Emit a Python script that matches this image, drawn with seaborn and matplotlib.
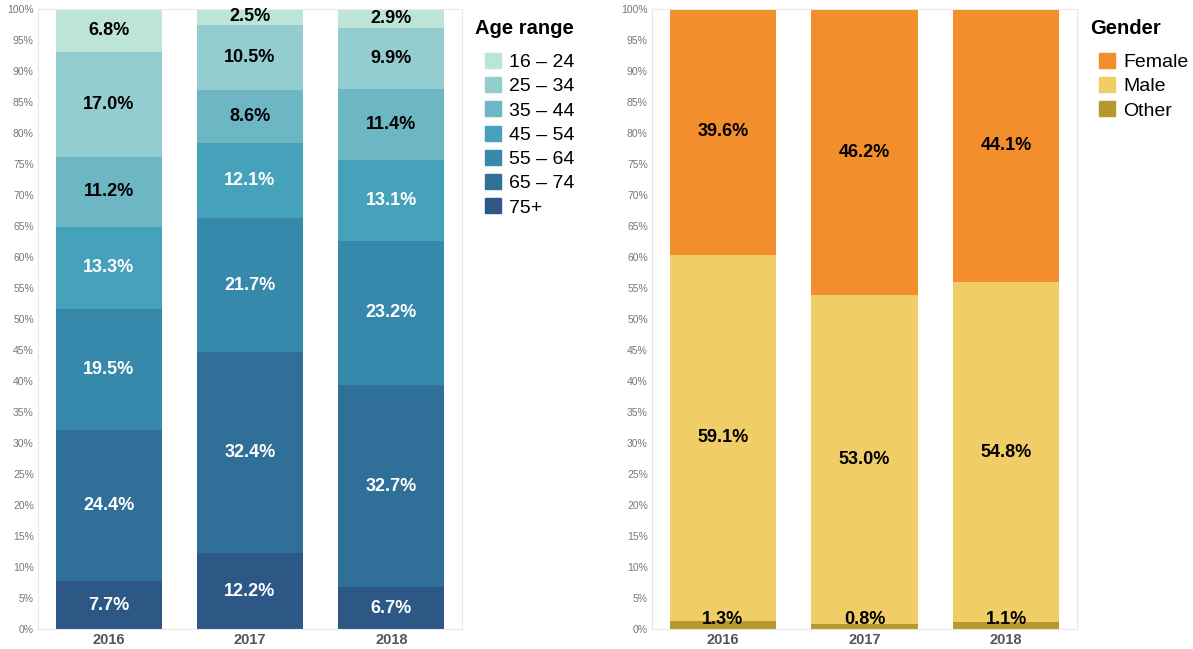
import seaborn as sns
import matplotlib.pyplot as plt
import pandas as pd
import numpy as np
from matplotlib.patches import Patch

years = ['2016', '2017', '2018']

# faixas etárias (de baixo pra cima no gráfico = 75+ primeiro)
age_ranges = ['16 – 24', '25 – 34', '35 – 44', '45 – 54', '55 – 64', '65 – 74', '75+']
age_16_24 = [6.8, 2.5, 2.9]
age_25_34 = [17.0, 10.5, 9.9]
age_35_44 = [11.2, 8.6, 11.4]
age_45_54 = [13.3, 12.1, 13.1]
age_55_64 = [19.5, 21.7, 23.2]
age_65_74 = [24.4, 32.4, 32.7]
age_75 = [7.7, 12.2, 6.7]
age_colors = ['#bde4d8', '#94cdcf', '#6db6c4', '#46a2bb', '#3689aa', '#306f97', '#2d5886']
age_text = ['black', 'black', 'black', 'white', 'white', 'white', 'white']

genders = ['Female', 'Male', 'Other']
female = [39.6, 46.2, 44.1]
male = [59.1, 53.0, 54.8]
other = [1.3, 0.8, 1.1]
gender_colors = ['#f28e2b', '#f0cd67', '#b8982c']

age_df = pd.DataFrame({'Year': years, '16 – 24': age_16_24, '25 – 34': age_25_34,
                       '35 – 44': age_35_44, '45 – 54': age_45_54, '55 – 64': age_55_64,
                       '65 – 74': age_65_74, '75+': age_75})
gender_df = pd.DataFrame({'Year': years, 'Female': female, 'Male': male, 'Other': other})

plt.rcParams['font.family'] = ['Liberation Sans', 'DejaVu Sans']

fig = plt.figure(figsize=(11.93, 6.49), dpi=100)
ax1 = fig.add_axes([38/1193, 1-629/649, 424/1193, 620/649])
ax2 = fig.add_axes([652/1193, 1-629/649, 425/1193, 620/649])


def stacked(ax, df, cats, colors, text_colors):
    # ordem de empilhamento: último da lista fica embaixo
    order = cats[::-1]
    cum = df[order].cumsum(axis=1)
    # desenha do maior acumulado pro menor, um por cima do outro
    for cat in order[::-1]:
        i = cats.index(cat)
        sns.barplot(x=df['Year'], y=cum[cat], color=colors[i], width=0.75,
                    linewidth=0, saturation=1, ax=ax)
    for j in range(len(df)):
        base = 0
        for cat in order:
            i = cats.index(cat)
            v = df[cat].iloc[j]
            if v < 2:
                ax.text(j, 0.1, f'{v:.1f}%', ha='center', va='bottom', fontsize=13,
                        fontweight='bold', color=text_colors[i])
            else:
                ax.text(j, base + v / 2, f'{v:.1f}%', ha='center', va='center', fontsize=13,
                        fontweight='bold', color=text_colors[i])
            base += v


stacked(ax1, age_df, age_ranges, age_colors, age_text)
stacked(ax2, gender_df, genders, gender_colors, ['black'] * 3)

for ax in [ax1, ax2]:
    ax.set_ylim(0, 100)
    ax.set_xlim(-0.5, 2.5)
    ax.set_yticks(np.arange(0, 101, 5))
    ax.set_yticklabels([f'{t}%' for t in range(0, 101, 5)])
    ax.tick_params(axis='y', length=0, labelsize=7.5, labelcolor='#777777', pad=3)
    ax.tick_params(axis='x', length=0, labelsize=10.5, labelcolor='#555555', pad=3)
    for lab in ax.get_xticklabels():
        lab.set_fontweight('bold')
    ax.set_xlabel('')
    ax.set_ylabel('')
    for s in ax.spines.values():
        s.set_color('#e8e8e8')
        s.set_linewidth(0.8)

# títulos das legendas separados pra ter o recuo dos itens
fig.text(475/1193, 1-28/649, 'Age range', fontsize=14.5, fontweight='bold', va='center', ha='left')
fig.text(1090/1193, 1-28/649, 'Gender', fontsize=14.5, fontweight='bold', va='center', ha='left')

leg_kw = dict(loc='upper left', frameon=False, fontsize=14,
              handlelength=0.8, handleheight=0.8, labelspacing=0.31, handletextpad=0.45,
              borderaxespad=0, borderpad=0)

fig.legend(handles=[Patch(color=c, label=l) for c, l in zip(age_colors, age_ranges)],
           bbox_to_anchor=(485/1193, 1-53/649), **leg_kw)
fig.legend(handles=[Patch(color=c, label=l) for c, l in zip(gender_colors, genders)],
           bbox_to_anchor=(1099/1193, 1-53/649), **leg_kw)

fig.savefig('out.png', dpi=100)
